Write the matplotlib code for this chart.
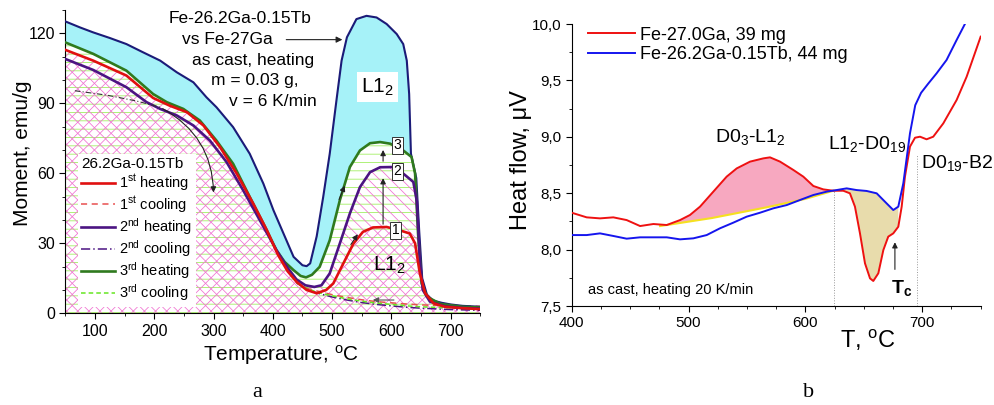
import matplotlib
matplotlib.use('Agg')
import matplotlib.pyplot as plt
from matplotlib.ticker import MultipleLocator, FixedLocator
from matplotlib.lines import Line2D
import numpy as np

plt.rcParams['font.family'] = ['Liberation Sans', 'DejaVu Sans']
plt.rcParams['mathtext.default'] = 'regular'
plt.rcParams['hatch.linewidth'] = 0.55

# ---- panel a: magnetisation vs temperature ----
t_ref = [50, 75, 97, 125, 153, 180, 210, 238, 266, 288, 305, 333, 361, 384, 401, 418, 435, 450, 457, 463,
         474, 485, 496, 508, 516, 525, 541, 558, 575, 592, 609, 620, 626, 630, 633, 642, 647, 652, 660,
         670, 685, 700, 720, 750]
m_ref = [125.1, 122.5, 120.4, 118, 115.4, 112, 108.3, 103.3, 99, 92.6, 88.3, 79.8, 68.4, 55.6, 44.2, 34.2,
         24.2, 20.6, 20.2, 21.4, 33, 49.9, 68.4, 92.6, 108.3, 118.3, 126.1, 127.5, 126.8, 124, 119.7,
         115.4, 108.3, 94, 68.4, 58, 35, 15, 8, 5.5, 4.5, 3.8, 3.2, 2.8]

t_h3 = [50, 97, 153, 198, 221, 249, 277, 305, 333, 361, 384, 406, 420, 435, 447, 456, 466, 479, 496, 513,
        530, 547, 564, 581, 598, 620, 634, 640, 645, 651, 660, 683, 720, 750]
m_h3 = [116.1, 111.2, 104, 94, 90.5, 87.6, 82.6, 74, 64.1, 49.9, 38.5, 27.1, 22, 18.5, 16, 15.4, 16.5,
        19.9, 31.3, 48.4, 62.7, 69.8, 72.9, 73.4, 72.7, 69.8, 67, 59.9, 34.2, 12.8, 7.1, 4, 2.8, 2.5]

t_h2 = [50, 97, 153, 187, 210, 238, 266, 294, 322, 350, 378, 406, 425, 440, 455, 470, 482, 496, 513, 530,
        547, 564, 581, 603, 620, 637, 643, 648, 653, 665, 690, 720, 750]
m_h2 = [109, 104.3, 96.9, 90.5, 87.6, 84.8, 80.5, 74, 64.8, 52.7, 39.9, 27.1, 19.5, 14.5, 12, 11.3, 12,
        17.1, 29.9, 42.8, 54.1, 60.5, 62.6, 62.7, 59.9, 56.3, 48, 22.8, 10, 5, 3, 2.3, 2]

t_h1 = [50, 97, 153, 198, 226, 255, 283, 311, 339, 367, 390, 409, 425, 440, 457, 474, 490, 502, 519, 536,
        552, 569, 592, 614, 631, 640, 648, 657, 671, 690, 720, 750]
m_h1 = [112.9, 108.3, 101.9, 92.3, 89, 86.2, 80.5, 71.2, 59.9, 47, 35.6, 24.9, 18, 13.5, 10, 8.6, 10,
        12.8, 21.4, 29.9, 34.9, 36.8, 37, 35.6, 34.2, 30, 17.1, 8.6, 4.3, 2.8, 2.2, 1.8]

t_cool = [440, 460, 480, 500, 525, 550, 575, 600, 625, 650, 700, 750]
m_c1 = [13, 10.5, 9.2, 8, 6.8, 5.8, 5, 4.5, 4, 3.6, 3.2, 3.0]
m_c2 = [13, 10, 8.3, 7, 5.7, 4.6, 3.8, 3.2, 2.6, 2.2, 1.6, 1.3]
m_c3 = [13, 10.3, 8.7, 7.5, 6.2, 5.2, 4.4, 3.8, 3.2, 2.8, 2.3, 2.0]

leg_labels = ['1$^{st}$ heating', '1$^{st}$ cooling', '2$^{nd}$ heating', '2$^{nd}$ cooling',
              '3$^{rd}$ heating', '3$^{rd}$ cooling']

# ---- panel b: DSC ----
t_ga = [400, 412.8, 424.2, 435.6, 447, 458.5, 469.9, 481.3, 492.7, 501.2, 509.8, 521.2, 532.6, 541.2,
        552.6, 564, 569.7, 578.3, 589.7, 598.2, 606.8, 615.3, 623.9, 632.4, 638.1, 642.4, 646.7, 651,
        655.3, 658.1, 662.4, 666.7, 670.9, 675.2, 679.5, 682.4, 685.2, 689.5, 693.8, 698.1, 703.7,
        709.4, 718, 729.4, 738, 750]
h_ga = [8.327, 8.286, 8.277, 8.286, 8.262, 8.209, 8.227, 8.218, 8.262, 8.307, 8.381, 8.514, 8.647, 8.72,
        8.78, 8.809, 8.818, 8.78, 8.706, 8.647, 8.564, 8.534, 8.522, 8.522, 8.499, 8.381, 8.144, 7.878,
        7.745, 7.722, 7.79, 7.996, 8.115, 8.144, 8.203, 8.381, 8.647, 8.913, 8.992, 9.001, 8.978, 9.001,
        9.119, 9.326, 9.533, 9.888]
t_tb = [400, 412.8, 424.2, 435.6, 447, 458.5, 469.9, 481.3, 492.7, 504.1, 515.5, 526.9, 538.3, 549.7,
        561.1, 572.5, 584, 595.4, 606.8, 618.2, 626.7, 635.3, 643.8, 652.4, 661, 669.5, 675.2, 679.5,
        683.8, 689.5, 694, 699, 705, 712.3, 720.8, 729.4, 736.5]
h_tb = [8.129, 8.129, 8.144, 8.121, 8.097, 8.109, 8.109, 8.109, 8.091, 8.1, 8.129, 8.189, 8.239, 8.292,
        8.327, 8.366, 8.395, 8.44, 8.484, 8.514, 8.528, 8.543, 8.528, 8.52, 8.499, 8.41, 8.351, 8.381,
        8.588, 9.031, 9.28, 9.39, 9.47, 9.563, 9.681, 9.858, 10.0]
t_base = [475.6, 520, 566.8, 600, 623.9]
h_base = [8.209, 8.28, 8.375, 8.45, 8.522]

fig = plt.figure(figsize=(9.95, 4.05), dpi=100)

# ================= a =================
ax = fig.add_axes([0.0657, 0.2264, 0.417, 0.7489])
c_ref, c_h1, c_h2, c_h3 = '#1b1b78', '#e01010', '#4b1482', '#2f7a1e'

ax.fill(np.r_[t_ref, t_h3[::-1]], np.r_[m_ref, m_h3[::-1]], color='#a6f2f8', lw=0, zorder=1)
ax.fill_between(t_h3, 0, m_h3, facecolor='none', edgecolor='#99ee55', hatch='--', lw=0, zorder=1.2)
ax.fill_between(t_h2, 0, m_h2, facecolor='none', edgecolor='#f070d0', hatch='\\\\\\', lw=0, zorder=1.3)
ax.fill_between(t_h1, 0, m_h1, facecolor='none', edgecolor='#f070d0', hatch='///', lw=0, zorder=1.3)

ax.plot(t_cool, m_c1, color='#e85050', lw=1.1, ls=(0, (4, 3)), zorder=3)
ax.plot(t_cool, m_c2, color=c_h2, lw=1.1, ls=(0, (6, 2, 1, 2)), zorder=3)
ax.plot(t_cool, m_c3, color='#66e622', lw=1.1, ls=(0, (3, 2)), zorder=3)
ax.plot(t_ref, m_ref, color=c_ref, lw=1.5, zorder=4)
ax.plot(t_h3, m_h3, color=c_h3, lw=1.9, zorder=4)
ax.plot(t_h2, m_h2, color=c_h2, lw=1.9, zorder=4)
ax.plot(t_h1, m_h1, color=c_h1, lw=1.9, zorder=5)

ax.set_xlim(50, 750)
ax.set_ylim(0, 130)
ax.xaxis.set_major_locator(FixedLocator([100, 200, 300, 400, 500, 600, 700]))
ax.xaxis.set_minor_locator(MultipleLocator(50))
ax.yaxis.set_major_locator(FixedLocator([0, 30, 60, 90, 120]))
ax.yaxis.set_minor_locator(MultipleLocator(10))
ax.tick_params(labelsize=11.5, direction='out', length=4)
ax.tick_params(which='minor', direction='out', length=2.5)
for s in ['top', 'right']:
    ax.spines[s].set_visible(False)
ax.set_xlabel('Temperature, $^o$C', fontsize=15)
ax.xaxis.set_label_coords(0.52, -0.098)
ax.set_ylabel('Moment, emu/g', fontsize=15)
ax.yaxis.set_label_coords(-0.08, 0.527)

ax.text(344, 126.2, 'Fe-26.2Ga-0.15Tb', fontsize=12.5, ha='center', va='center')
ax.text(323, 117.3, 'vs Fe-27Ga', fontsize=12.5, ha='center', va='center')
ax.text(366, 108.3, 'as cast, heating', fontsize=12.5, ha='center', va='center')
ax.text(370, 99.7, 'm = 0.03 g,', fontsize=12.5, ha='center', va='center')
ax.text(400, 90.8, 'v = 6 K/min', fontsize=12.5, ha='center', va='center')
ax.annotate('', xy=(522, 117.3), xytext=(418, 117.3),
            arrowprops=dict(arrowstyle='-|>', lw=0.8, color='#222222', mutation_scale=9))
ax.text(577, 97, 'L1$_2$', fontsize=15, ha='center', va='center', zorder=6,
        bbox=dict(facecolor='white', edgecolor='none', pad=3))
ax.text(597, 20.7, 'L1$_2$', fontsize=15, ha='center', va='center', zorder=6)
for n, (tx, my) in enumerate([(607, 35.6), (610, 60.8), (610, 72)], start=1):
    ax.text(tx, my, str(n), fontsize=10, ha='center', va='center', zorder=6,
            bbox=dict(facecolor='white', edgecolor='#333333', lw=0.7, pad=1.2))
ax.annotate('', xy=(586, 71.2), xytext=(586, 64),
            arrowprops=dict(arrowstyle='-|>', lw=0.8, color='#222222', mutation_scale=8), zorder=6)
ax.annotate('', xy=(586, 59.1), xytext=(586, 37),
            arrowprops=dict(arrowstyle='-|>', lw=0.8, color='#222222', mutation_scale=8), zorder=6)
ax.annotate('', xy=(523, 55.8), xytext=(510, 47.7),
            arrowprops=dict(arrowstyle='-|>', lw=0.8, color='#222222', mutation_scale=8), zorder=6)
ax.annotate('', xy=(546, 34.9), xytext=(529, 28.5),
            arrowprops=dict(arrowstyle='-|>', lw=0.8, color='#222222', mutation_scale=8), zorder=6)
ax.annotate('', xy=(564, 5.7), xytext=(609, 5.7),
            arrowprops=dict(arrowstyle='-|>', lw=0.8, color='#555555', mutation_scale=8), zorder=6)
ax.plot([66, 120, 170, 210], [95.4, 93.5, 91, 88.3], color='#333333', lw=0.8,
        ls=(0, (5, 2, 1, 2)), zorder=4)
ax.annotate('', xy=(300, 50.6), xytext=(210, 88.3),
            arrowprops=dict(arrowstyle='-|>', lw=0.8, color='#222222', mutation_scale=8,
                            connectionstyle='arc3,rad=-0.3'), zorder=6)

handles = [Line2D([], [], color=c_h1, lw=1.9),
           Line2D([], [], color='#e85050', lw=1.1, ls=(0, (4, 3))),
           Line2D([], [], color=c_h2, lw=1.9),
           Line2D([], [], color=c_h2, lw=1.1, ls=(0, (6, 2, 1, 2))),
           Line2D([], [], color=c_h3, lw=1.9),
           Line2D([], [], color='#66e622', lw=1.1, ls=(0, (3, 2)))]
leg = ax.legend(handles, leg_labels, title='26.2Ga-0.15Tb', loc='upper left',
                bbox_to_anchor=(0.012, 0.55), fontsize=10.5, title_fontsize=11, frameon=True,
                facecolor='white', edgecolor='none', framealpha=1, fancybox=False,
                handlelength=2.3, handletextpad=0.3, labelspacing=0.08, borderpad=0.25,
                alignment='left')
leg.set_zorder(7)

# ================= b =================
bx = fig.add_axes([0.5746, 0.2444, 0.411, 0.6963])
t_ga_a = np.array(t_ga)
h_ga_a = np.array(h_ga)
sel = (t_ga_a >= 475.6) & (t_ga_a <= 623.9)
bx.fill(np.r_[475.6, t_ga_a[sel], t_base[::-1]], np.r_[8.209, h_ga_a[sel], h_base[::-1]],
        color='#f7a8c0', lw=0, zorder=1)
t_tb_a = np.array(t_tb)
h_tb_a = np.array(h_tb)
s1 = (t_ga_a >= 632) & (t_ga_a <= 682)
s2 = (t_tb_a >= 632) & (t_tb_a <= 682)
bx.fill(np.r_[t_ga_a[s1], t_tb_a[s2][::-1]], np.r_[h_ga_a[s1], h_tb_a[s2][::-1]],
        color='#e8dcac', lw=0, zorder=1)
bx.plot(t_base, h_base, color='#f5e020', lw=1.5, zorder=2)
bx.plot(t_ga, h_ga, color='#ee1111', lw=1.4, label='Fe-27.0Ga, 39 mg', zorder=3)
bx.plot(t_tb, h_tb, color='#1515ee', lw=1.4, label='Fe-26.2Ga-0.15Tb, 44 mg', zorder=3)
bx.plot([624.7, 624.7], [7.5, 8.52], color='#999999', lw=0.7, ls=':')
bx.plot([695.8, 695.8], [7.5, 8.85], color='#999999', lw=0.7, ls=':')

bx.set_xlim(400, 750)
bx.set_ylim(7.5, 10.0)
bx.xaxis.set_major_locator(FixedLocator([400, 500, 600, 700]))
bx.xaxis.set_minor_locator(MultipleLocator(25))
bx.yaxis.set_major_locator(FixedLocator([7.5, 8.0, 8.5, 9.0, 9.5, 10.0]))
bx.set_yticklabels(['7,5', '8,0', '8,5', '9,0', '9,5', '10,0'])
bx.yaxis.set_minor_locator(MultipleLocator(0.25))
bx.tick_params(labelsize=11, direction='out', length=4)
bx.tick_params(which='minor', direction='out', length=2.5)
for s in ['top', 'right']:
    bx.spines[s].set_visible(False)
bx.set_xlabel('T, $^o$C', fontsize=17)
bx.xaxis.set_label_coords(0.724, -0.078)
bx.set_ylabel('Heat flow, \u03bcV', fontsize=17)
bx.yaxis.set_label_coords(-0.097, 0.518)

bx.text(552.6, 9.0, 'D0$_3$-L1$_2$', fontsize=14, ha='center', va='center')
bx.text(652.4, 8.94, 'L1$_2$-D0$_{19}$', fontsize=14, ha='center', va='center')
bx.text(730, 8.77, 'D0$_{19}$-B2', fontsize=14, ha='center', va='center')
bx.text(414, 7.64, 'as cast, heating 20 K/min', fontsize=10.5, ha='left', va='center')
bx.text(682.4, 7.66, 'T$_c$', fontsize=14, fontweight='bold', ha='center', va='center')
bx.annotate('', xy=(676.6, 8.09), xytext=(676.6, 7.8),
            arrowprops=dict(arrowstyle='-|>', lw=0.8, color='#222222', mutation_scale=8))
bx.legend(loc='upper left', bbox_to_anchor=(0.01, 1.035), fontsize=13, frameon=False,
          handlelength=2.6, handletextpad=0.25, labelspacing=0.15, borderpad=0.2)

fig.text(0.258, 0.032, 'a', fontsize=16, family=['Liberation Serif'], ha='center', va='center')
fig.text(0.813, 0.032, 'b', fontsize=16, family=['Liberation Serif'], ha='center', va='center')

fig.savefig('out.png', dpi=100)
